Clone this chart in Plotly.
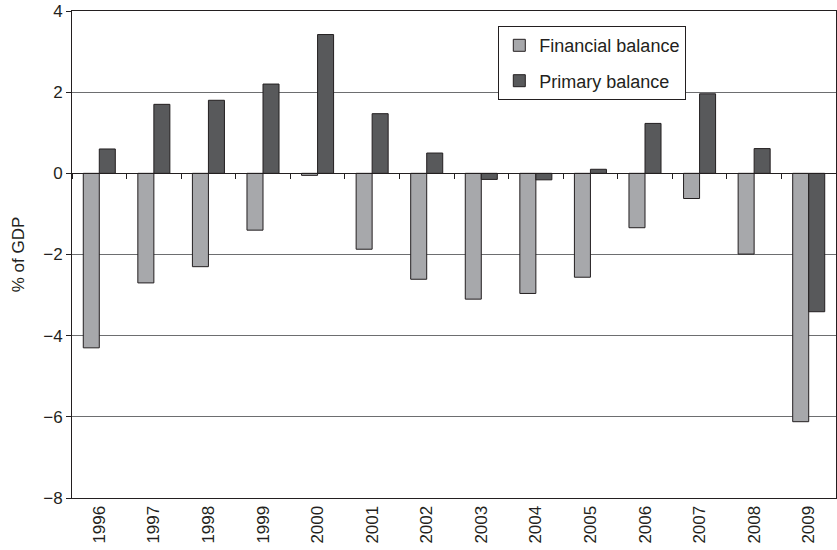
import plotly.graph_objects as go

years = ["1996", "1997", "1998", "1999", "2000", "2001", "2002",
         "2003", "2004", "2005", "2006", "2007", "2008", "2009"]
financial_balance = [-4.3, -2.7, -2.3, -1.4, -0.05, -1.87, -2.61,
                     -3.1, -2.96, -2.56, -1.34, -0.62, -1.99, -6.12]
primary_balance = [0.6, 1.7, 1.8, 2.2, 3.42, 1.47, 0.5,
                   -0.15, -0.16, 0.1, 1.23, 1.96, 0.61, -3.41]

font_family = "Liberation Sans, Arial, sans-serif"
ink = "#231f20"
grid = "#6d6e70"

fig = go.Figure()
fig.add_trace(go.Bar(
    x=years, y=financial_balance, name="Financial balance",
    marker=dict(color="#a7a8ab", line=dict(color=ink, width=1)),
    legendgroup="a",
))
fig.add_trace(go.Bar(
    x=years, y=primary_balance, name="Primary balance",
    marker=dict(color="#58595b", line=dict(color=ink, width=1)),
    legendgroup="b",
))
# helper trace for the x axis drawn along the zero line (tick marks only)
fig.add_trace(go.Scatter(
    x=years, y=[None] * len(years), xaxis="x2", showlegend=False,
    hoverinfo="skip", mode="markers",
))

fig.update_layout(
    width=837, height=550,
    margin=dict(l=72, r=1, t=11, b=52, autoexpand=False),
    paper_bgcolor="white", plot_bgcolor="white",
    font=dict(family=font_family, size=17, color=ink),
    barmode="group", bargap=0.413, bargroupgap=0,
    showlegend=True,
    legend=dict(
        x=0.558, y=0.969, xanchor="left", yanchor="top",
        bgcolor="white", bordercolor=ink, borderwidth=1,
        font=dict(size=18, color=ink), tracegroupgap=9,
        traceorder="grouped",
    ),
    xaxis=dict(
        type="category", categoryorder="array", categoryarray=years,
        range=[-0.5, len(years) - 0.5], automargin=False,
        tickangle=-90, ticks="", showgrid=False,
        showline=True, linecolor=ink, linewidth=1, mirror=True,
        tickfont=dict(size=17, color=ink),
    ),
    xaxis2=dict(
        type="category", categoryorder="array", categoryarray=years,
        range=[-0.5, len(years) - 0.5], automargin=False,
        overlaying="x", anchor="free", position=2 / 3, side="bottom",
        showticklabels=False, ticks="outside", tickson="boundaries",
        ticklen=5, tickcolor=ink, tickwidth=1,
        showline=True, linecolor=ink, linewidth=1, showgrid=False,
    ),
    yaxis=dict(
        range=[-8, 4], dtick=2, tick0=0, automargin=False,
        ticks="outside", ticklen=5, tickcolor=ink, ticklabeloverflow="allow",
        showline=True, linecolor=ink, linewidth=1, mirror=True,
        showgrid=True, gridcolor=grid, gridwidth=1,
        zeroline=True, zerolinecolor=ink, zerolinewidth=1,
        tickfont=dict(size=17, color=ink),
        title=dict(text="% of GDP", font=dict(size=17, color=ink), standoff=14),
    ),
)

# remove the default page margin so the figure sits at the window's corner
fig.write_html("out.html",
               config={"displayModeBar": False},
               post_script="document.body.style.margin='0';")
